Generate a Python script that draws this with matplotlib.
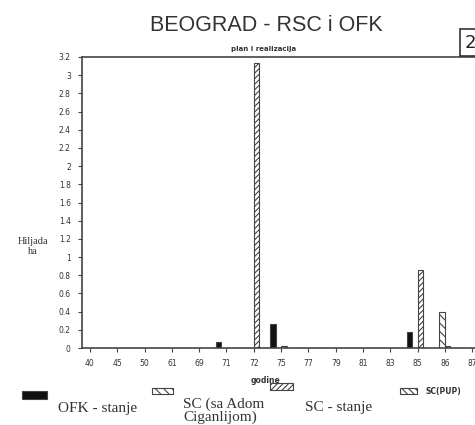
import numpy as np
import matplotlib.pyplot as plt
from matplotlib.patches import Rectangle

plt.rcParams['hatch.linewidth'] = 0.8

# Data (thousand ha)
godine = ['40', '45', '50', '61', '69', '71', '72', '75', '77', '79', '81', '83', '85', '86', '87']
ofk_stanje = [0, 0, 0, 0, 0, 0.07, 0, 0.27, 0, 0, 0, 0, 0.18, 0, 0]
sc_ada = [0, 0, 0, 0, 0, 0, 0, 0, 0, 0, 0, 0, 0, 0.40, 0]
sc_stanje = [0, 0, 0, 0, 0, 0, 3.13, 0.02, 0, 0, 0, 0, 0.86, 0.02, 0]
sc_pup = [0, 0, 0, 0, 0, 0, 0, 0, 0, 0, 0, 0, 0, 0, 0]

edge = '#444444'
fig = plt.figure(figsize=(4.75, 4.25), dpi=100)
ax = fig.add_axes([0.1726, 0.181, 0.859, 0.685])

x = np.arange(len(godine))
w = 0.2
series = [
    (ofk_stanje, -1.5, '#111111', None),
    (sc_ada, -0.5, 'white', '\\\\\\\\'),
    (sc_stanje, 0.5, 'white', '//////'),
    (sc_pup, 1.5, 'white', '\\\\\\\\\\'),
]
for vals, off, fc, hatch in series:
    vals = np.array(vals, dtype=float)
    m = vals > 0
    ax.bar(x[m] + off * w, vals[m], width=w, color=fc, edgecolor=edge,
           hatch=hatch, linewidth=0.8)

ax.set_xlim(-0.29, 14.65)
ax.set_ylim(0, 3.2)
ax.set_xticks(x)
ax.set_xticklabels(godine)
ax.set_yticks(np.arange(0, 3.21, 0.2))
ax.set_yticklabels(['0', '0.2', '0.4', '0.6', '0.8', '1', '1.2', '1.4', '1.6', '1.8',
                    '2', '2.2', '2.4', '2.6', '2.8', '3', '3.2'])
ax.tick_params(direction='out', length=3, width=0.8, colors=edge, labelsize=5.5,
               labelcolor='#333333')
ax.tick_params(axis='y', pad=5)
ax.tick_params(axis='x', pad=5)
for s in ['left', 'bottom', 'top']:
    ax.spines[s].set_color(edge)
    ax.spines[s].set_linewidth(1.2)
ax.spines['right'].set_visible(False)

# titles and axis labels
fig.text(0.56, 0.94, 'BEOGRAD - RSC i OFK', ha='center', va='center',
         fontsize=15.5, color='#333333', family='Liberation Sans')
fig.text(0.555, 0.884, 'plan i realizacija', ha='center', va='center',
         fontsize=5, color='#333333', fontweight='bold')
fig.text(0.558, 0.105, 'godine', ha='center', va='center', fontsize=5.5,
         color='#333333', fontweight='bold')
fig.text(0.07, 0.42, 'Hiljada\nha', ha='center', va='center', fontsize=7.5,
         color='#333333', family='Liberation Serif', linespacing=1.1)

# numbered box at top right
fig.text(0.99, 0.9, '2', ha='center', va='center', fontsize=13, color='#222222',
         bbox=dict(boxstyle='square,pad=0.25', fc='white', ec='#333333', lw=1.2))

# legend drawn by hand under the axis
leg = [
    (0.046, 0.062, 0.052, 0.018, '#111111', None, 0.123, 0.038, 'OFK - stanje'),
    (0.32, 0.072, 0.045, 0.016, 'white', '\\\\\\\\', 0.385, 0.034, 'SC (sa Adom\nCiganlijom)'),
    (0.569, 0.083, 0.048, 0.016, 'white', '//////', 0.642, 0.04, 'SC - stanje'),
    (0.842, 0.072, 0.035, 0.016, 'white', '\\\\\\\\\\', 0.895, 0.078, 'SC(PUP)'),
]
for lx, ly, lw, lh, fc, hatch, tx, ty, label in leg:
    fig.add_artist(Rectangle((lx, ly), lw, lh, transform=fig.transFigure,
                             facecolor=fc, edgecolor=edge, hatch=hatch, lw=0.8))
    if label == 'SC(PUP)':
        fig.text(tx, ty, label, fontsize=5.5, color='#333333', fontweight='bold',
                 va='center')
    else:
        fig.text(tx, ty, label, fontsize=11, color='#333333', va='center',
                 family='Liberation Serif', linespacing=1.0)

plt.savefig('out.png', dpi=100)
